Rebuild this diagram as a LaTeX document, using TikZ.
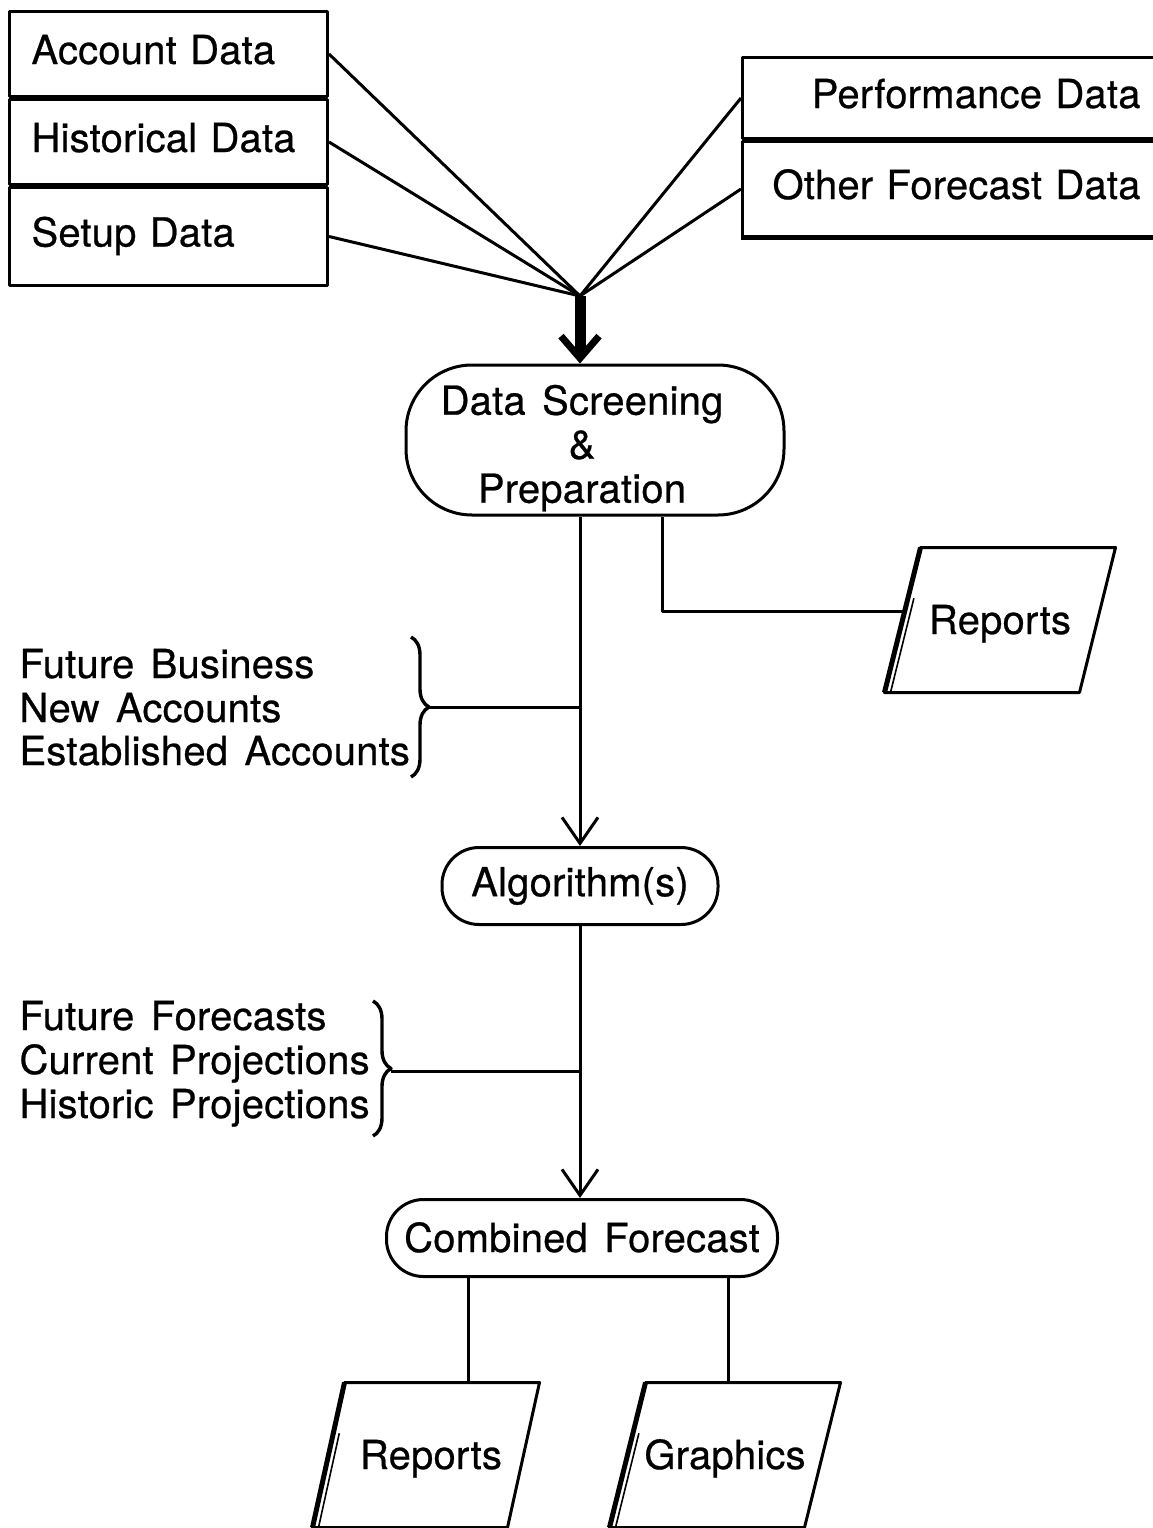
\documentclass[tikz,border=0pt]{standalone}
\usepackage{fontspec}
\setmainfont{TeX Gyre Heros}[WordSpace=1.45,LetterSpace=0.5,FakeBold=0.6]
\usetikzlibrary{arrows.meta,decorations.pathreplacing,calc}
\newcommand\paraoutline[2]{%
  \draw ([xshift=#2]#1.north west) -- ([xshift=#2]#1.north east) -- ([xshift=-#2]#1.south east) -- ([xshift=-#2]#1.south west) -- cycle;
  \draw[line width=5pt] ([xshift=#2]#1.north west) -- ([xshift=-#2]#1.south west);
  \draw[line width=1.6pt] ($([xshift=#2]#1.north west)!0.35!([xshift=-#2]#1.south west)+(6,0)$) -- ([xshift=-#2+6pt]#1.south west);
}
\begin{document}
\begin{tikzpicture}[x=1pt,y=-1pt,line width=3pt,line join=round,
  every node/.style={font=\fontsize{40}{44}\selectfont},
  cell/.style={draw,rectangle,inner xsep=22pt,inner ysep=0pt,text height=28pt,text depth=8pt,anchor=north west},
  lcell/.style={cell,text width=274pt,align=left},
  rcell/.style={cell,inner xsep=26pt,text width=372pt,align=right},
  stad/.style={draw,rectangle,inner sep=0pt,align=center},
  para/.style={rectangle,inner sep=0pt,minimum width=192pt,minimum height=142pt,text height=28pt,text depth=0pt},
  lbl/.style={anchor=base west,inner sep=0pt},
  arr/.style={-{Straight Barb[length=26pt,width=36pt,line width=3pt]}},
  bigarr/.style={line width=11pt,-{Straight Barb[length=22pt,width=38pt,line width=7pt]}},
  brc/.style={line width=3.4pt,decorate,decoration={brace,amplitude=18pt}}]
\useasboundingbox (0,0) rectangle (1153,1528);
% left data box
\node[lcell,minimum height=85pt] (acc) at (8,10) {Account Data};
\node[lcell,minimum height=85pt] (hist) at (acc.south west) {Historical Data};
\node[lcell,minimum height=98pt] (setup) at (hist.south west) {Setup Data};
% right data box
\node[rcell,minimum height=81pt] (perf) at (741,56) {Performance Data};
\node[rcell,minimum height=95pt] (other) at (perf.south west) {Other Forecast Data};
\draw[line width=4pt] (other.south west) -- (other.south east);
% main nodes
\node[stad,minimum width=378pt,minimum height=150pt,rounded corners=66pt,text depth=40pt] (ds) at (595,440)
  {\hspace*{-26pt}\begin{tabular}{@{}c@{}}Data Screening\\\&\\Preparation\end{tabular}};
\node[stad,minimum width=276pt,minimum height=77pt,rounded corners=37pt] (alg) at (580,886) {Algorithm(s)};
\node[stad,minimum width=391pt,minimum height=77pt,rounded corners=37pt,text height=28pt,text depth=0pt] (cf) at (582,1238) {Combined Forecast};
\node[para] (rep1) at (1000,620) {Reports};
\node[para] (rep2) at (426,1455) {\hspace*{10pt}Reports};
\node[para] (gra) at (725,1455) {Graphics};
\paraoutline{rep1}{18pt}
\paraoutline{rep2}{16pt}
\paraoutline{gra}{18pt}
% hub
\coordinate (hub) at (580,296);
\draw (acc.east) -- (hub);
\draw (hist.east) -- (hub);
\draw (setup.east) -- (hub);
\draw (perf.west) -- (hub);
\draw (other.west) -- (hub);
\draw[bigarr] (hub) -- (hub |- ds.north);
% flows
\draw[arr] (hub |- ds.south) -- (alg.north);
\draw ([xshift=67pt]ds.south) |- ([yshift=9pt]rep1.west);
\draw[arr] (alg.south) -- (alg.south |- cf.north);
\draw ([xshift=42pt]rep2.north) -- ([xshift=42pt]rep2.north |- cf.south);
\draw ([xshift=3pt]gra.north) -- ([xshift=3pt]gra.north |- cf.south);
% labels and braces
\node[lbl] (fb) at (18,678) {Future Business};
\node[lbl] (na) at (18,722) {New Accounts};
\node[lbl] (ea) at (18,765) {Established Accounts};
\coordinate (b1top) at (411,637);
\coordinate (b1bot) at (411,777);
\coordinate (b1tip) at (429,707);
\draw[brc] (b1top) -- (b1bot);
\draw (b1tip) -- (b1tip -| hub);
\node[lbl] (ff) at (18,1030) {Future Forecasts};
\node[lbl] (cp) at (18,1074) {Current Projections};
\node[lbl] (hp) at (18,1118) {Historic Projections};
\coordinate (b2top) at (373,1001);
\coordinate (b2bot) at (373,1136);
\coordinate (b2tip) at (391,1071);
\draw[brc] (b2top) -- (b2bot);
\draw (b2tip) -- (b2tip -| hub);
\end{tikzpicture}
\end{document}
